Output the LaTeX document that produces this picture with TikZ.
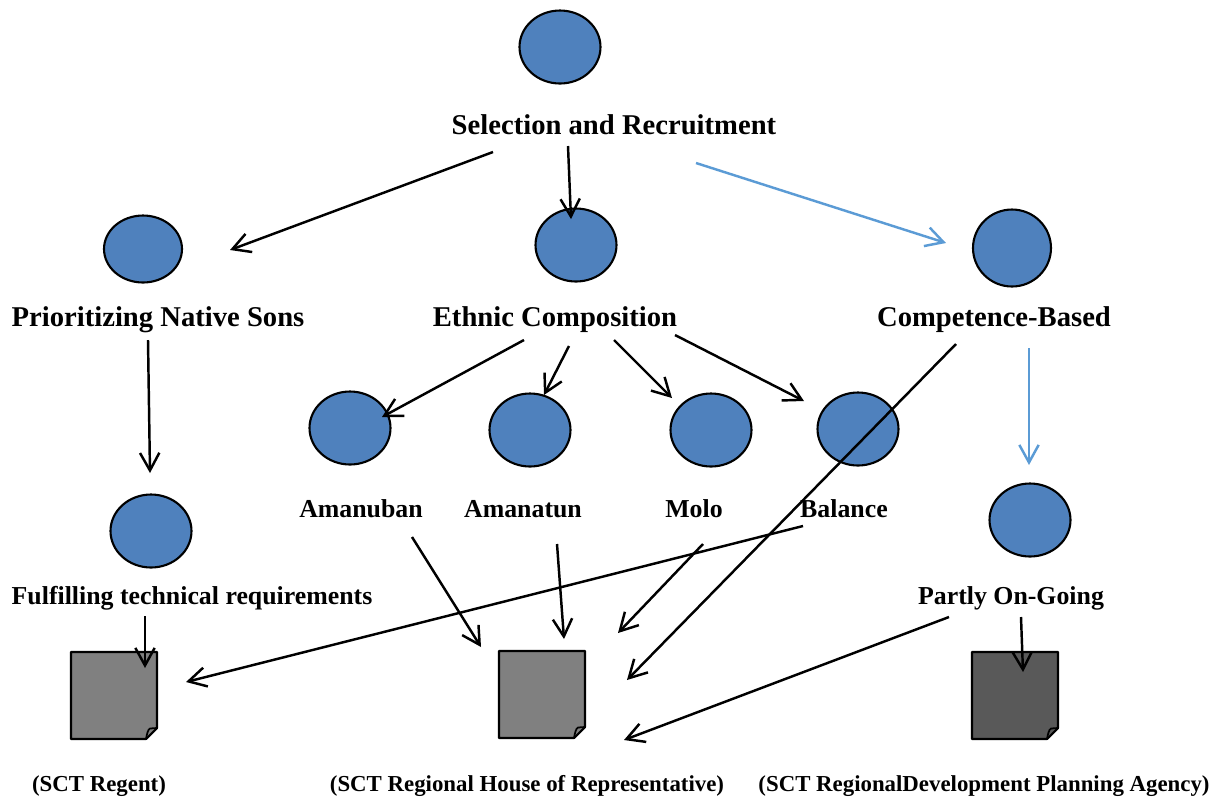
\documentclass[tikz,border=0pt]{standalone}
\usepackage{fontspec}
\setmainfont{Liberation Serif}
\usepackage{xcolor}
\usepackage{tikz}
\usetikzlibrary{calc}
\usetikzlibrary{arrows.meta,shapes.geometric}
\definecolor{dotblue}{HTML}{4F81BD}
\definecolor{linkblue}{HTML}{5B9BD5}
\definecolor{sheetgray}{HTML}{808080}
\definecolor{sheetdark}{HTML}{595959}
\tikzset{
  dot/.style={ellipse,draw=black,fill=dotblue,line width=1.2pt,inner sep=0pt,minimum width=1.62cm,minimum height=1.46cm},
  sheet/.style={rectangle,inner sep=0pt,minimum width=1.72cm,minimum height=1.74cm},
  biglabel/.style={font=\bfseries\fontsize{16.3}{18}\selectfont,inner sep=0pt},
  midlabel/.style={font=\bfseries\fontsize{14.7}{16}\selectfont,inner sep=0pt},
  smalllabel/.style={font=\bfseries\fontsize{13}{15}\selectfont,inner sep=0pt},
  link/.style={-{Straight Barb[length=10pt,width=11pt]},line width=1.4pt,black},
  bluelink/.style={link,linkblue}
}
\begin{document}
\begin{tikzpicture}[x=0.02cm,y=-0.02cm]
\useasboundingbox (0,0) rectangle (1221,796);

% Top level
\node[dot] (selectionDot) at (560,47) {};
\node[biglabel] (selection) at (614,125) {Selection and Recruitment};

% Second level
\node[dot,minimum width=1.56cm,minimum height=1.34cm] (sonsDot) at (143,249) {};
\node[dot] (ethnicDot) at (576,245) {};
\node[dot,minimum width=1.56cm,minimum height=1.54cm] (competenceDot) at (1012,248) {};
\node[biglabel] (sons) at (158,320) {Prioritizing Native Sons};
\node[biglabel] (ethnic) at (555,320) {Ethnic Composition};
\node[biglabel] (competence) at (994,320) {Competence-Based};

% Ethnic groups
\node[dot] (amanubanDot) at (350,428) {};
\node[dot] (amanatunDot) at (530,430) {};
\node[dot] (moloDot) at (711,430) {};
\node[dot] (balanceDot) at (858,429) {};
\node[midlabel] (amanuban) at (361,509) {Amanuban};
\node[midlabel] (amanatun) at (523,509) {Amanatun};
\node[midlabel] (molo) at (694,509) {Molo};
\node[midlabel] (balance) at (844,509) {Balance};

% Third level
\node[dot] (fulfilDot) at (151,531) {};
\node[dot] (partlyDot) at (1030,520) {};
\node[midlabel] (fulfil) at (192,598) {Fulfilling technical requirements};
\node[midlabel] (partly) at (1011,598) {Partly On-Going};

% Sheets
\node[sheet] (regent) at (114,695.5) {};
\node[sheet] (house) at (542,694.5) {};
\node[sheet] (agency) at (1015,695.5) {};
\foreach \n/\c in {regent/sheetgray,house/sheetgray,agency/sheetdark} {
  \draw[line width=1.2pt,line join=round,fill=\c] ($(\n)+(-43,-43.5)$) -- ($(\n)+(43,-43.5)$) -- ($(\n)+(43,32.5)$) -- ($(\n)+(32,43.5)$) -- ($(\n)+(-43,43.5)$) -- cycle;
  \draw[line width=1pt] ($(\n)+(32,43.5)$) .. controls ($(\n)+(33,38)$) and ($(\n)+(34,34)$) .. ($(\n)+(36,33)$) -- ($(\n)+(43,32.5)$);
}
\node[smalllabel] (regentText) at (99,786) {(SCT Regent)};
\node[smalllabel] (houseText) at (527,786) {(SCT Regional House of Representative)};
\node[smalllabel] (agencyText) at (984,786) {(SCT RegionalDevelopment Planning Agency)};

% Links from the top
\draw[link] ($(selection)+(-121,27)$) -- ($(sonsDot)+(87,1)$);
\draw[link] ($(selection)+(-46,21)$) -- ($(ethnicDot)+(-5,-26)$);
\draw[bluelink] ($(selection)+(82,38)$) -- ($(competenceDot)+(-66,-5)$);

% Links from the second level
\draw[link] ($(sons)+(-10,20)$) -- ($(fulfilDot)+(-1,-58)$);
\draw[link] ($(ethnic)+(-31,20)$) -- ($(amanubanDot)+(32,-11)$);
\draw[link] ($(ethnic)+(14,26)$) -- ($(amanatunDot)+(14,-35)$);
\draw[link] ($(ethnic)+(59,20)$) -- ($(moloDot)+(-39,-32)$);
\draw[link] ($(ethnic)+(120,15)$) -- ($(balanceDot)+(-54,-28)$);
\draw[link] ($(competence)+(-38,24)$) -- ($(house)+(85,-14.5)$);
\draw[bluelink] ($(competence)+(35,28)$) -- ($(partlyDot)+(-1,-55)$);

% Links down to the sheets
\draw[link] ($(amanuban)+(51,28)$) -- ($(house)+(-61,-47.5)$);
\draw[link] ($(amanatun)+(34,35)$) -- ($(house)+(22,-55.5)$);
\draw[link] ($(molo)+(9,35)$) -- ($(house)+(76,-61.5)$);
\draw[link] ($(balance)+(-41,17)$) -- ($(regent)+(72,-13.5)$);
\draw[link] ($(fulfil)+(-47,18)$) -- ($(regent)+(31,-27.5)$);
\draw[link] ($(partly)+(-62,19)$) -- ($(house)+(82,45.5)$);
\draw[link] ($(partly)+(10,19)$) -- ($(agency)+(8,-23.5)$);
\end{tikzpicture}
\end{document}
